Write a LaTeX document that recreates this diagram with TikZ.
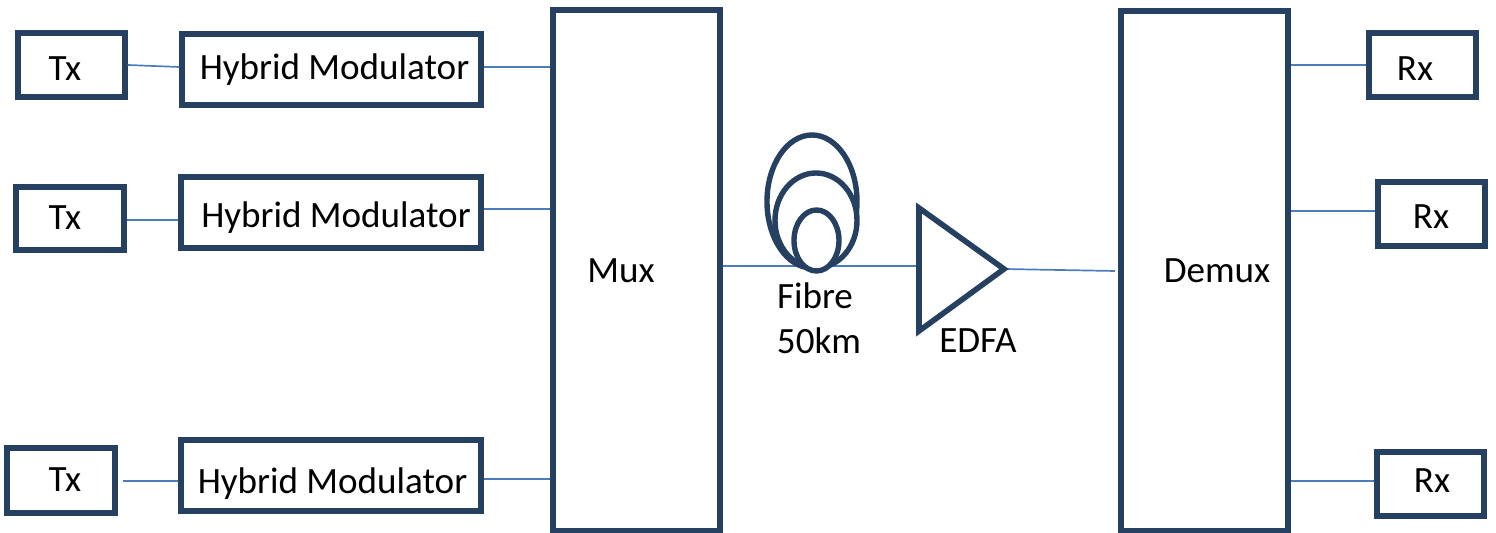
\documentclass[tikz,border=0pt]{standalone}
\usepackage{fontspec}
\setmainfont{Carlito}
\definecolor{darkbox}{HTML}{254061}
\definecolor{wire}{HTML}{4A7EBB}
\newcommand{\bx}[5]{\node[boxshape,minimum width=#4*0.5pt-#2*0.5pt,minimum height=#5*0.5pt-#3*0.5pt] (#1) at ({(#2+#4)/2},{(#3+#5)/2}) {};}
\tikzset{
  boxshape/.style={draw=darkbox,line width=2.6pt,fill=white,inner sep=0pt,outer sep=1.3pt},
  coil/.style={draw=darkbox,line width=2.7pt,fill=white,ellipse,inner sep=0pt,outer sep=0pt},
  wireline/.style={draw=wire,line width=0.85pt},
  txt/.style={anchor=base,inner sep=0pt,font=\fontsize{18.55}{18.55}\selectfont,text=black}
}
\usetikzlibrary{shapes.geometric}
\begin{document}
\begin{tikzpicture}[x=0.5pt,y=-0.5pt]
\useasboundingbox (0,0) rectangle (1496,533);
\bx{tx1}{18}{33}{125}{97}
\bx{hy1}{182}{34}{481}{105}
\bx{tx2}{16}{187}{124}{250}
\bx{hy2}{181}{177}{481}{248}
\bx{tx3}{7}{448}{115}{513}
\bx{hy3}{181}{440}{481}{511}
\bx{mux}{553}{10}{720}{531}
\bx{demux}{1121}{11}{1288}{531}
\bx{rx1}{1369}{33}{1476}{97}
\bx{rx2}{1378}{182}{1485}{246}
\bx{rx3}{1377}{452}{1484}{516}
\coordinate (tx3out) at (123,481);
\coordinate (demuxin) at (1115,271);
% triangle
\node[coordinate] (ea) at (919,208) {};
\node[coordinate] (eb) at (1004,269) {};
\node[coordinate] (ec) at (919,331) {};
% connectors
\draw[wireline] (tx1.east) -- (hy1.west |- 0,67);
\draw[wireline] (hy1.east |- 0,67) -- (mux.west |- 0,67);
\draw[wireline] (tx2.east |- 0,220) -- (hy2.west |- 0,220);
\draw[wireline] (hy2.east |- 0,209) -- (mux.west |- 0,209);
\draw[wireline] (tx3out) -- (tx3out -| hy3.west);
\draw[wireline] (hy3.east |- 0,479) -- (mux.west |- 0,479);
\draw[wireline] (mux.east |- 0,266) -- (ea |- 0,266);
\draw[wireline] (eb) -- (demuxin);
\draw[wireline] (demux.east |- 0,65) -- (rx1.west |- 0,65);
\draw[wireline] (demux.east |- 0,211) -- (rx2.west |- 0,211);
\draw[wireline] (demux.east |- 0,481) -- (rx3.west |- 0,481);
% fibre coil
\node[coil,minimum width=45pt,minimum height=66.5pt] (c1) at (812,201.5) {};
\node[coil,minimum width=41pt,minimum height=47.5pt] (c2) at (816,220.5) {};
\node[coil,minimum width=22.5pt,minimum height=30.5pt] (c3) at (816.5,240.5) {};
% amplifier
\draw[draw=darkbox,line width=2.8pt,line join=miter] (ea) -- (eb) -- (ec) -- cycle;
% labels
\node[txt] (l1) at (65,81) {Tx};
\node[txt] (l2) at (65,230) {Tx};
\node[txt] (l3) at (65,492) {Tx};
\node[txt] (l4) at (334.5,80) {Hybrid Modulator};
\node[txt] (l5) at (336,228) {Hybrid Modulator};
\node[txt] (l6) at (332.5,494) {Hybrid Modulator};
\node[txt] (l7) at (621,283) {Mux};
\node[txt] (l8) at (1217,283) {Demux};
\node[txt] (l9) at (815,309) {Fibre};
\node[txt] (l10) at (819,354) {50km};
\node[txt] (l11) at (978,353) {EDFA};
\node[txt] (l12) at (1415,81) {Rx};
\node[txt] (l13) at (1431,229) {Rx};
\node[txt] (l14) at (1432,493) {Rx};
\end{tikzpicture}
\end{document}
